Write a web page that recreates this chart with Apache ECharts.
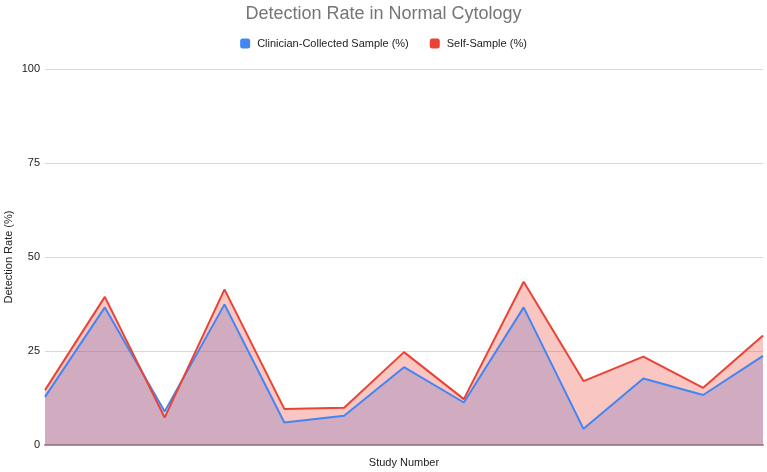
<!DOCTYPE html>
<html>
<head>
<meta charset="utf-8">
<script src="https://cdn.jsdelivr.net/npm/echarts@6/dist/echarts.min.js"></script>
<style>
  html, body { margin: 0; padding: 0; background: #fff; }
  #chart { width: 767px; height: 472px; }
</style>
</head>
<body>
<div id="chart"></div>
<script>
const studies = ['1', '2', '3', '4', '5', '6', '7', '8', '9', '10', '11', '12', '13']
const clinician = [12.8, 36.6, 8.9, 37.4, 6.0, 7.8, 20.7, 11.3, 36.6, 4.3, 17.7, 13.3, 23.7]
const selfSample = [14.6, 39.4, 7.3, 41.4, 9.6, 9.9, 24.7, 12.2, 43.4, 17.0, 23.5, 15.2, 29.1]
const yTicks = [0, 25, 50, 75, 100]

const font = '"Liberation Sans", Arial, sans-serif'
const chart = echarts.init(document.getElementById('chart'))

chart.setOption({
  animation: false,
  textStyle: { fontFamily: font },
  title: {
    text: 'Detection Rate in Normal Cytology',
    left: 'center',
    top: 0,
    textStyle: { color: '#757575', fontSize: 18, fontWeight: 'normal', fontFamily: font }
  },
  legend: {
    top: 33,
    left: 'center',
    icon: 'roundRect',
    itemWidth: 10,
    itemHeight: 10,
    itemGap: 21,
    textStyle: { color: '#222', fontSize: 11, fontFamily: font, padding: [0, 0, 0, 2] },
    data: ['Clinician-Collected Sample (%)', 'Self-Sample (%)']
  },
  grid: { left: 45, right: 4, top: 69, bottom: 27, containLabel: false, outerBoundsMode: 'none' },
  xAxis: {
    type: 'category',
    data: studies,
    boundaryGap: false,
    name: 'Study Number',
    nameLocation: 'middle',
    nameGap: 12,
    nameTextStyle: { color: '#222', fontSize: 11 },
    axisLine: { lineStyle: { color: '#999', width: 2 } },
    axisTick: { show: false },
    axisLabel: { show: false }
  },
  yAxis: {
    type: 'value',
    min: yTicks[0],
    max: yTicks[yTicks.length - 1],
    interval: 25,
    name: 'Detection Rate (%)',
    nameLocation: 'middle',
    nameGap: 31,
    nameMoveOverlap: false,
    nameTextStyle: { color: '#222', fontSize: 11 },
    axisLine: { show: false },
    axisTick: { show: false },
    axisLabel: { color: '#222', fontSize: 11, margin: 5 },
    splitLine: { lineStyle: { color: '#d9d9d9', width: 1 } }
  },
  series: [
    {
      name: 'Clinician-Collected Sample (%)',
      type: 'line',
      data: clinician,
      symbol: 'none',
      color: '#4285F4',
      lineStyle: { width: 2 },
      areaStyle: { opacity: 0.3 }
    },
    {
      name: 'Self-Sample (%)',
      type: 'line',
      data: selfSample,
      symbol: 'none',
      color: '#EA4335',
      lineStyle: { width: 2 },
      areaStyle: { opacity: 0.3 }
    }
  ]
})
</script>
</body>
</html>
